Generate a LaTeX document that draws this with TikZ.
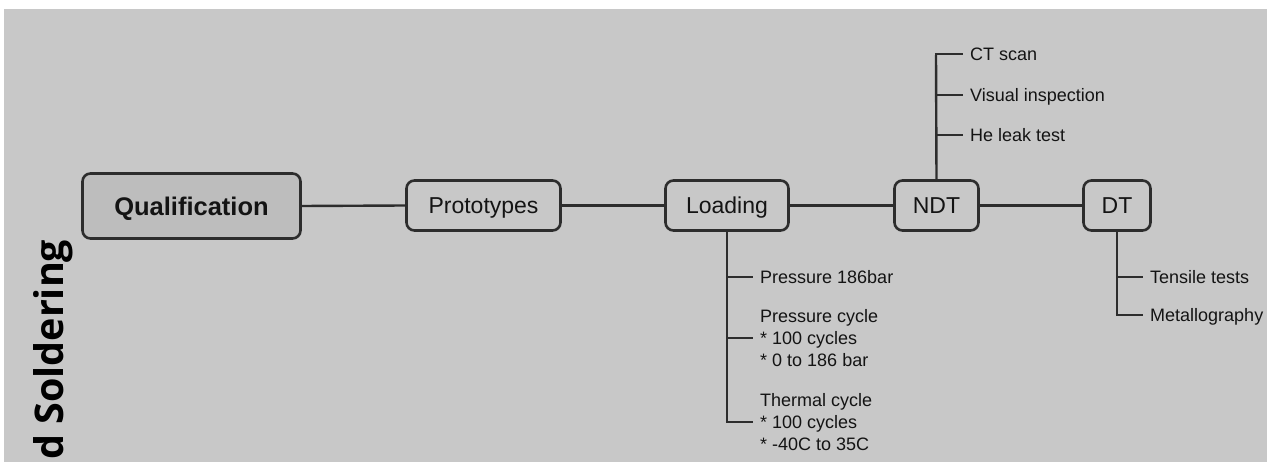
\documentclass[tikz,border=0pt]{standalone}
\usepackage{fontspec}
\setmainfont{Liberation Sans}
\newfontfamily\titlefont{Open Sans}
\definecolor{bggray}{RGB}{200,200,200}
\definecolor{qgray}{RGB}{189,189,189}
\definecolor{linec}{RGB}{45,45,45}
\definecolor{txt}{RGB}{20,20,20}
\begin{document}
\begin{tikzpicture}[x=1pt,y=-1pt,
  stagebox/.style={draw=linec, line width=2.6pt, rounded corners=8pt, fill=bggray,
     inner sep=0pt, text=txt, font=\fontsize{23}{27}\selectfont,
     text height=16.5pt, text depth=0pt},
  conn/.style={draw=linec, line width=2.4pt},
  leaf/.style={anchor=west, inner xsep=7pt, inner ysep=0pt, text=txt,
     font=\fontsize{18}{22}\selectfont, text height=13pt, text depth=0pt},
  multileaf/.style={anchor=west, inner xsep=7pt, inner ysep=0pt, text=txt,
     font=\fontsize{18}{22}\selectfont, align=left}
]
\useasboundingbox (0,0) rectangle (1267,462);
\fill[white] (0,0) rectangle (1267,462);
\fill[bggray] (4,9) rectangle (1267,462);

% title fragment
\begin{scope}
\clip (4,9) rectangle (1267,462);
\node[rotate=90, anchor=base west, inner sep=0pt, text=black,
      font=\titlefont\bfseries\fontsize{39.5}{46}\selectfont] (title) at (63,460) {d Soldering};
\end{scope}

% main boxes
\node[stagebox, fill=qgray, minimum width=218pt, minimum height=65pt,
      font=\bfseries\fontsize{25.5}{30}\selectfont, text height=18.3pt] (q) at (191.5,206) {Qualification};
\node[stagebox, minimum width=154pt, minimum height=50pt] (p) at (483.5,205.5) {Prototypes};
\node[stagebox, minimum width=123pt, minimum height=50pt] (ld) at (727,205.5) {Loading};
\node[stagebox, minimum width=84pt, minimum height=50pt] (ndt) at (936.5,205.5) {NDT};
\node[stagebox, minimum width=67pt, minimum height=50pt] (dt) at (1117,205.5) {DT};

\draw[conn] (q.east) -- (p.west);
\draw[conn] (p.east) -- (ld.west);
\draw[conn] (ld.east) -- (ndt.west);
\draw[conn] (ndt.east) -- (dt.west);

% NDT branch
\coordinate (n1) at (936,54);
\coordinate (n2) at (936,95);
\coordinate (n3) at (936,135);
\node[leaf] (ct) at (963,54) {CT scan};
\node[leaf] (vi) at (963,95) {Visual inspection};
\node[leaf] (he) at (963,135) {He leak test};
\draw[conn] (ndt.north) -- ([yshift=-1.2pt]n1);
\draw[conn] ([xshift=-1.2pt]n1) -- (ct.west);
\draw[conn] (n2) -- (vi.west);
\draw[conn] (n3) -- (he.west);

% Loading branch
\coordinate (l1) at (727,277);
\coordinate (l2) at (727,338);
\coordinate (l3) at (727,422);
\node[leaf] (pr) at (753,277) {Pressure 186bar};
\node[multileaf] (pc) at (753,338) {Pressure cycle\\* 100 cycles\\* 0 to 186 bar};
\node[multileaf] (tc) at (753,422) {Thermal cycle\\* 100 cycles\\* -40C to 35C};
\draw[conn] (ld.south) -- ([yshift=1.2pt]l3);
\draw[conn] (l1) -- (pr.west);
\draw[conn] (l2) -- (pc.west);
\draw[conn] ([xshift=-1.2pt]l3) -- (tc.west);

% DT branch
\coordinate (d1) at (1117,277);
\coordinate (d2) at (1117,315);
\node[leaf] (ts) at (1143,277) {Tensile tests};
\node[leaf] (mt) at (1143,315) {Metallography};
\draw[conn] (dt.south) -- ([yshift=1.2pt]d2);
\draw[conn] (d1) -- (ts.west);
\draw[conn] ([xshift=-1.2pt]d2) -- (mt.west);
\end{tikzpicture}
\end{document}
